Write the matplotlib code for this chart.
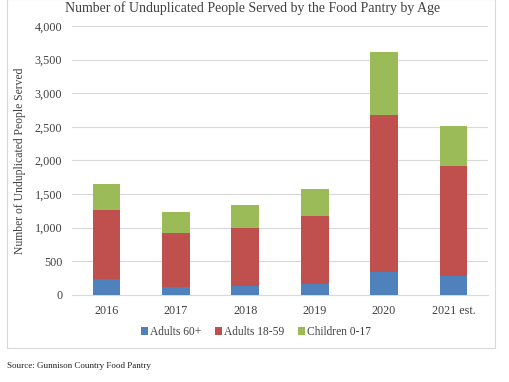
import numpy as np
import matplotlib.pyplot as plt
from matplotlib.patches import Rectangle

plt.rcParams['font.family'] = ['Liberation Serif', 'DejaVu Serif']

years = ["2016", "2017", "2018", "2019", "2020", "2021 est."]
adults_60 = [240, 115, 135, 155, 335, 275]
adults_18_59 = [1020, 805, 855, 1015, 2345, 1635]
children = [385, 315, 345, 400, 930, 600]

fig = plt.figure(figsize=(5.1, 3.82), dpi=100)
ax = fig.add_axes([0.141, 0.228, 0.816, 0.704])

x = np.arange(len(years))
w = 0.4
b1 = np.array(adults_60)
b2 = b1 + np.array(adults_18_59)
ax.bar(x, adults_60, w, color='#4F81BD', label='Adults 60+', zorder=3)
ax.bar(x, adults_18_59, w, bottom=b1, color='#C0504D', label='Adults 18-59', zorder=3)
ax.bar(x, children, w, bottom=b2, color='#9BBB59', label='Children 0-17', zorder=3)

ax.set_xlim(-0.5, len(years) - 0.5)
ax.set_ylim(0, 4000)
ax.set_yticks(range(0, 4001, 500))
ax.set_yticklabels([f"{v:,}" for v in range(0, 4001, 500)])
ax.set_xticks(x)
ax.set_xticklabels(years)
ax.tick_params(length=0, labelsize=8.7, colors='#404040')
ax.tick_params(axis='y', pad=7)
ax.tick_params(axis='x', pad=7)
ax.grid(axis='y', color='#d9d9d9', linewidth=0.8, zorder=0)
for s in ['top', 'right', 'left']:
    ax.spines[s].set_visible(False)
ax.spines['bottom'].set_color('#d9d9d9')

ax.set_ylabel("Number of Unduplicated People Served", fontsize=8.4, color='#404040', labelpad=6)
fig.text(253 / 510, 1 - 8 / 382,
         "Number of Unduplicated People Served by the Food Pantry by Age",
         fontsize=10, color='#404040', ha='center', va='center')

fig.legend(*ax.get_legend_handles_labels(), loc='center',
           bbox_to_anchor=(256 / 510, 1 - 332 / 382), ncol=3, frameon=False,
           fontsize=8.3, handlelength=0.6, handleheight=0.6, handletextpad=0.15,
           columnspacing=1.2, labelcolor='#404040')

fig.patches.append(Rectangle((7 / 510, 1 - 348 / 382), 488 / 510, 349 / 382,
                             transform=fig.transFigure, fill=False,
                             edgecolor='#d9d9d9', linewidth=0.8))
fig.text(7 / 510, 1 - 366 / 382, "Source: Gunnison Country Food Pantry",
         fontsize=6.5, va='center', ha='left', color='#222222')

fig.savefig("out.png", dpi=100, facecolor='white')
